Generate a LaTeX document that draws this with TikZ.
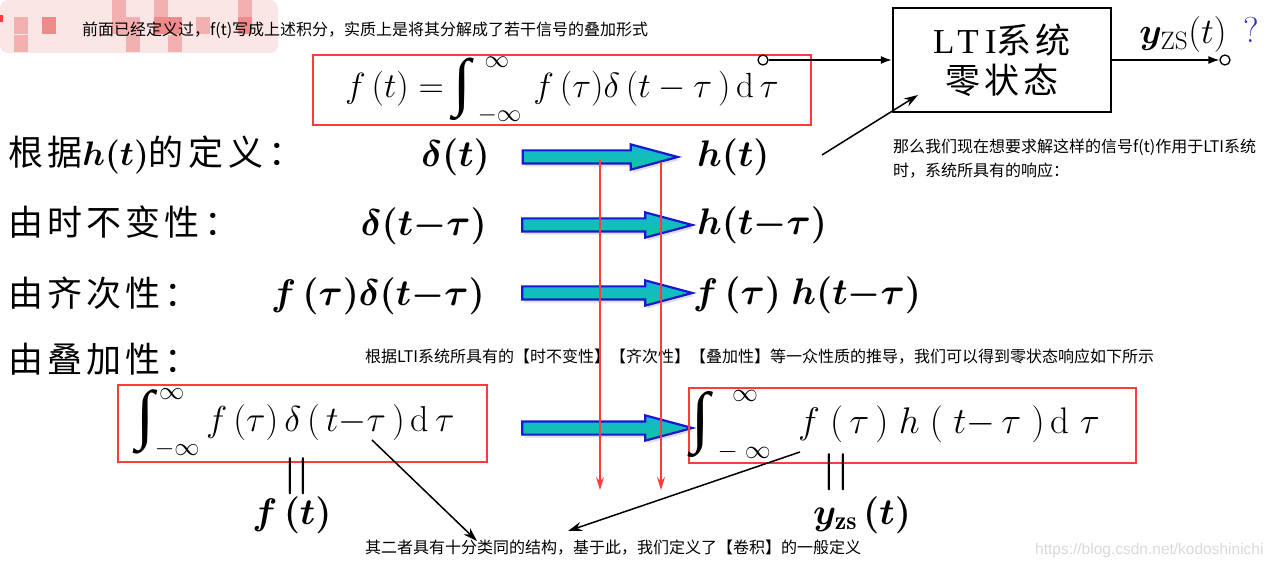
\RequirePackage{fix-cm}
\documentclass[tikz,border=0pt]{standalone}
\usepackage{fontspec}
\usepackage{amsmath}
\usepackage{bm}
\usepackage{graphicx}
\usepackage{tikz}
\usetikzlibrary{shapes.arrows,arrows.meta,shadows}
\newfontfamily\cjk{Noto Sans CJK SC}
\newfontfamily\cjkwide[LetterSpace=12]{Noto Sans CJK SC}
\newfontfamily\ltiserif[LetterSpace=18]{Liberation Serif}
\newfontfamily\intfont{Liberation Serif}
\newfontfamily\webfont{Liberation Sans}
\newcommand{\tallint}{\mathop{\vcenter{\hbox{\resizebox{!}{1.3em}{\intfont ∫}}}}\nolimits}
\definecolor{hexcolor0xff3b3b}{rgb}{1.000,0.231,0.231}
\definecolor{hexcolor0x1818d0}{rgb}{0.094,0.094,0.816}
\definecolor{hexcolor0x14b4d8}{rgb}{0.078,0.706,0.847}
\definecolor{hexcolor0x10c89a}{rgb}{0.063,0.784,0.604}
\definecolor{hexcolor0xfbe6e6}{rgb}{0.984,0.902,0.902}
\definecolor{hexcolor0xf2b0b0}{rgb}{0.949,0.690,0.690}
\definecolor{hexcolor0xee8a8a}{rgb}{0.933,0.541,0.541}
\definecolor{hexcolor0x3030c0}{rgb}{0.188,0.188,0.753}
\definecolor{myblack}{rgb}{0.000,0.000,0.000}
\definecolor{mywhite}{rgb}{1.000,1.000,1.000}
\definecolor{mygray}{rgb}{0.850,0.850,0.850}
\tikzstyle{note}=[font=\cjk\fontsize{16}{24}\selectfont,anchor=west,inner sep=0,align=left]
\tikzstyle{rule}=[font=\cjkwide\fontsize{35}{40}\selectfont,anchor=west,inner sep=0]
\tikzstyle{eq}=[font=\fontsize{37}{42}\selectfont,inner sep=0]
\tikzstyle{boxeq}=[font=\fontsize{35}{40}\selectfont,inner sep=0]
\tikzstyle{bigarrow}=[single arrow,draw=hexcolor0x1818d0,top color=hexcolor0x14b4d8,bottom color=hexcolor0x10c89a,line width=2.2pt,minimum height=170,text height=11pt,text depth=0pt,inner sep=0,single arrow head extend=6,single arrow tip angle=30,drop shadow={opacity=0.25,shadow xshift=2pt,shadow yshift=-3pt}]
\tikzstyle{redbox}=[draw=hexcolor0xff3b3b,line width=2.5pt,inner sep=0]
\tikzstyle{ltibox}=[draw=myblack,line width=2.5pt,minimum width=218,minimum height=104,align=center,font=\fontsize{35}{40}\selectfont]
\tikzstyle{port}=[circle,draw=myblack,fill=mywhite,line width=1.3pt,minimum size=10,inner sep=0]
\tikzstyle{pointer}=[draw=myblack,line width=1.5pt,-{Stealth[length=14pt,width=9pt]}]
\tikzstyle{redpointer}=[draw=hexcolor0xff3b3b,line width=1.5pt,-{Stealth[length=13pt,width=8pt]}]
\tikzstyle{flow}=[draw=myblack,line width=1.3pt,-{Latex[length=11pt,width=8pt]}]

\begin{document}
\begin{tikzpicture}[x=1pt,y=-1pt]
	\useasboundingbox (0,0) rectangle (1277,569);
	% mosaic in the corner
	\fill[hexcolor0xfbe6e6,rounded corners=8pt] (0,0) rectangle (278,53);
	\foreach \x/\y/\c in {14/17/hexcolor0xf2b0b0,42/17/hexcolor0xee8a8a,112/0/hexcolor0xf2b0b0,112/17/hexcolor0xf2b0b0,126/17/hexcolor0xf2b0b0,
		154/0/hexcolor0xf2b0b0,154/17/hexcolor0xee8a8a,168/17/hexcolor0xee8a8a,196/17/hexcolor0xf2b0b0,238/17/hexcolor0xee8a8a,
		14/35/hexcolor0xf2b0b0,126/35/hexcolor0xf2b0b0,168/35/hexcolor0xf2b0b0,238/0/hexcolor0xf2b0b0}
		\fill[\c] (\x,\y) rectangle ++(14,17);
	\fill[hexcolor0xff3b3b] (0,15) rectangle (3,22);
	%\begin{pgfonlayer}{nodelayer}
		\node [style=note] (0) at (82,30) {前面已经定义过，f(t)写成上述积分，实质上是将其分解成了若干信号的叠加形式};
		\node [style=redbox,minimum width=498,minimum height=70] (1) at (562,90) {};
		\node [style=boxeq] at (1) {$f\,(t)=\tallint_{\;-\infty}^{\;\;\infty}\, f\,(\tau)\delta\,(t-\tau\,)\,\mathrm{d}\,\tau$};
		\node [style=rule] (2) at (8,155) {根据{\fontsize{34}{40}\selectfont$\bm{h(t)}$}的\hspace{5pt}定\hspace{5pt}义\hspace{5pt}：};
		\node [style=eq,anchor=east] (3) at (490,157) {$\bm{\delta(t)}$};
		\node [style=bigarrow,minimum height=155] (4) at (588,157) {};
		\node [style=eq,anchor=west] (5) at (697,157) {$\bm{h(t)}$};
		\node [style=rule] (6) at (8,222) {由时不变性：};
		\node [style=eq,anchor=east] (7) at (487,226) {$\bm{\delta(t{-}\tau)}$};
		\node [style=bigarrow] (8) at (595,225) {};
		\node [style=eq,anchor=west] (9) at (697,225) {$\bm{h(t{-}\tau)}$};
		\node [style=rule] (10) at (8,293) {由齐次性：};
		\node [style=eq,anchor=east] (11) at (485,296) {$\bm{f\,(\tau)\delta(t{-}\tau)}$};
		\node [style=bigarrow] (12) at (595,293) {};
		\node [style=eq,anchor=west] (13) at (693,295) {$\bm{f\,(\tau)\;h(t{-}\tau)}$};
		\node [style=rule] (14) at (8,359) {由叠加性：};
		\node [style=redbox,minimum width=369,minimum height=77] (15) at (302.5,423.5) {};
		\node [style=boxeq,anchor=west,font=\fontsize{36}{40}\selectfont] at ([xshift=20pt]15.west) {$\tallint_{-\infty}^{\,\infty} f\,(\tau)\,\delta\,(\,t{-}\tau\,)\,\mathrm{d}\,\tau$};
		\node [style=bigarrow] (16) at (595,428) {};
		\node [style=redbox,minimum width=447,minimum height=75] (17) at (912.5,425.5) {};
		\node [style=boxeq,anchor=west,font=\fontsize{37}{42}\selectfont] at ([xshift=4pt]17.west) {$\tallint_{\;-\;\infty}^{\;\;\;\infty}\;\; f\;(\,\tau\,)\;h\;(\;t{-}\,\tau\;)\,\mathrm{d}\;\tau$};
		\node [style=eq] (18) at (297,476) {$\bm{\vert\mkern1mu\vert}$};
		\node [style=eq] (19) at (292,515) {$\bm{f\,(t)}$};
		\node [style=eq] (20) at (836,472) {$\bm{\vert\mkern1mu\vert}$};
		\node [style=eq] (21) at (862,515) {$\bm{y_{\mathrm{zs}}\,(t)}$};
		\node [style=ltibox] (22) at (1002,60) {{\ltiserif LTI}{\cjkwide 系统}\\{\cjkwide 零状态}};
		\node [style=port] (23) at (763,60) {};
		\node [style=port] (24) at (1225,60) {};
		\node [style=eq,font=\fontsize{36}{40}\selectfont] (25) at (1183,35) {$\bm{y}_{\mathrm{ZS}}(t)$};
		\node [font=\fontsize{36}{40}\selectfont,text=hexcolor0x3030c0,inner sep=0] (26) at (1251,30) {?};
		\node [style=note] (27) at (893,159) {那么我们现在想要求解这样的信号f(t)作用于LTI系统\\时，系统所具有的响应：};
		\node [style=note] (28) at (365,357) {根据LTI系统所具有的【时不变性】【齐次性】【叠加性】等一众性质的推导，我们可以得到零状态响应如下所示};
		\node [style=note] (29) at (365,548) {其二者具有十分类同的结构，基于此，我们定义了【卷积】的一般定义};
		\node [font=\webfont\fontsize{15.5}{18}\selectfont,text=mygray,anchor=west,inner sep=0] (30) at (1035,550) {https://blog.csdn.net/kodoshinichi};
		\coordinate (31) at (822,155);
		\coordinate (32) at (918,95);
		\coordinate (33) at (372,440);
		\coordinate (34) at (477,541);
		\coordinate (35) at (800,452);
		\coordinate (36) at (568,531);
		\coordinate (37) at (600,160);
		\coordinate (38) at (600,490);
		\coordinate (39) at (661,162);
		\coordinate (40) at (661,490);
	%\end{pgfonlayer}
	\draw [style=flow] (23) -- (22);
	\draw [style=flow] (22) -- (24);
	\draw [style=redpointer] (37) -- (38);
	\draw [style=redpointer] (39) -- (40);
	\draw [style=pointer] (31) -- (32);
	\draw [style=pointer] (33) -- (34);
	\draw [style=pointer] (35) -- (36);
\end{tikzpicture}
\end{document}
